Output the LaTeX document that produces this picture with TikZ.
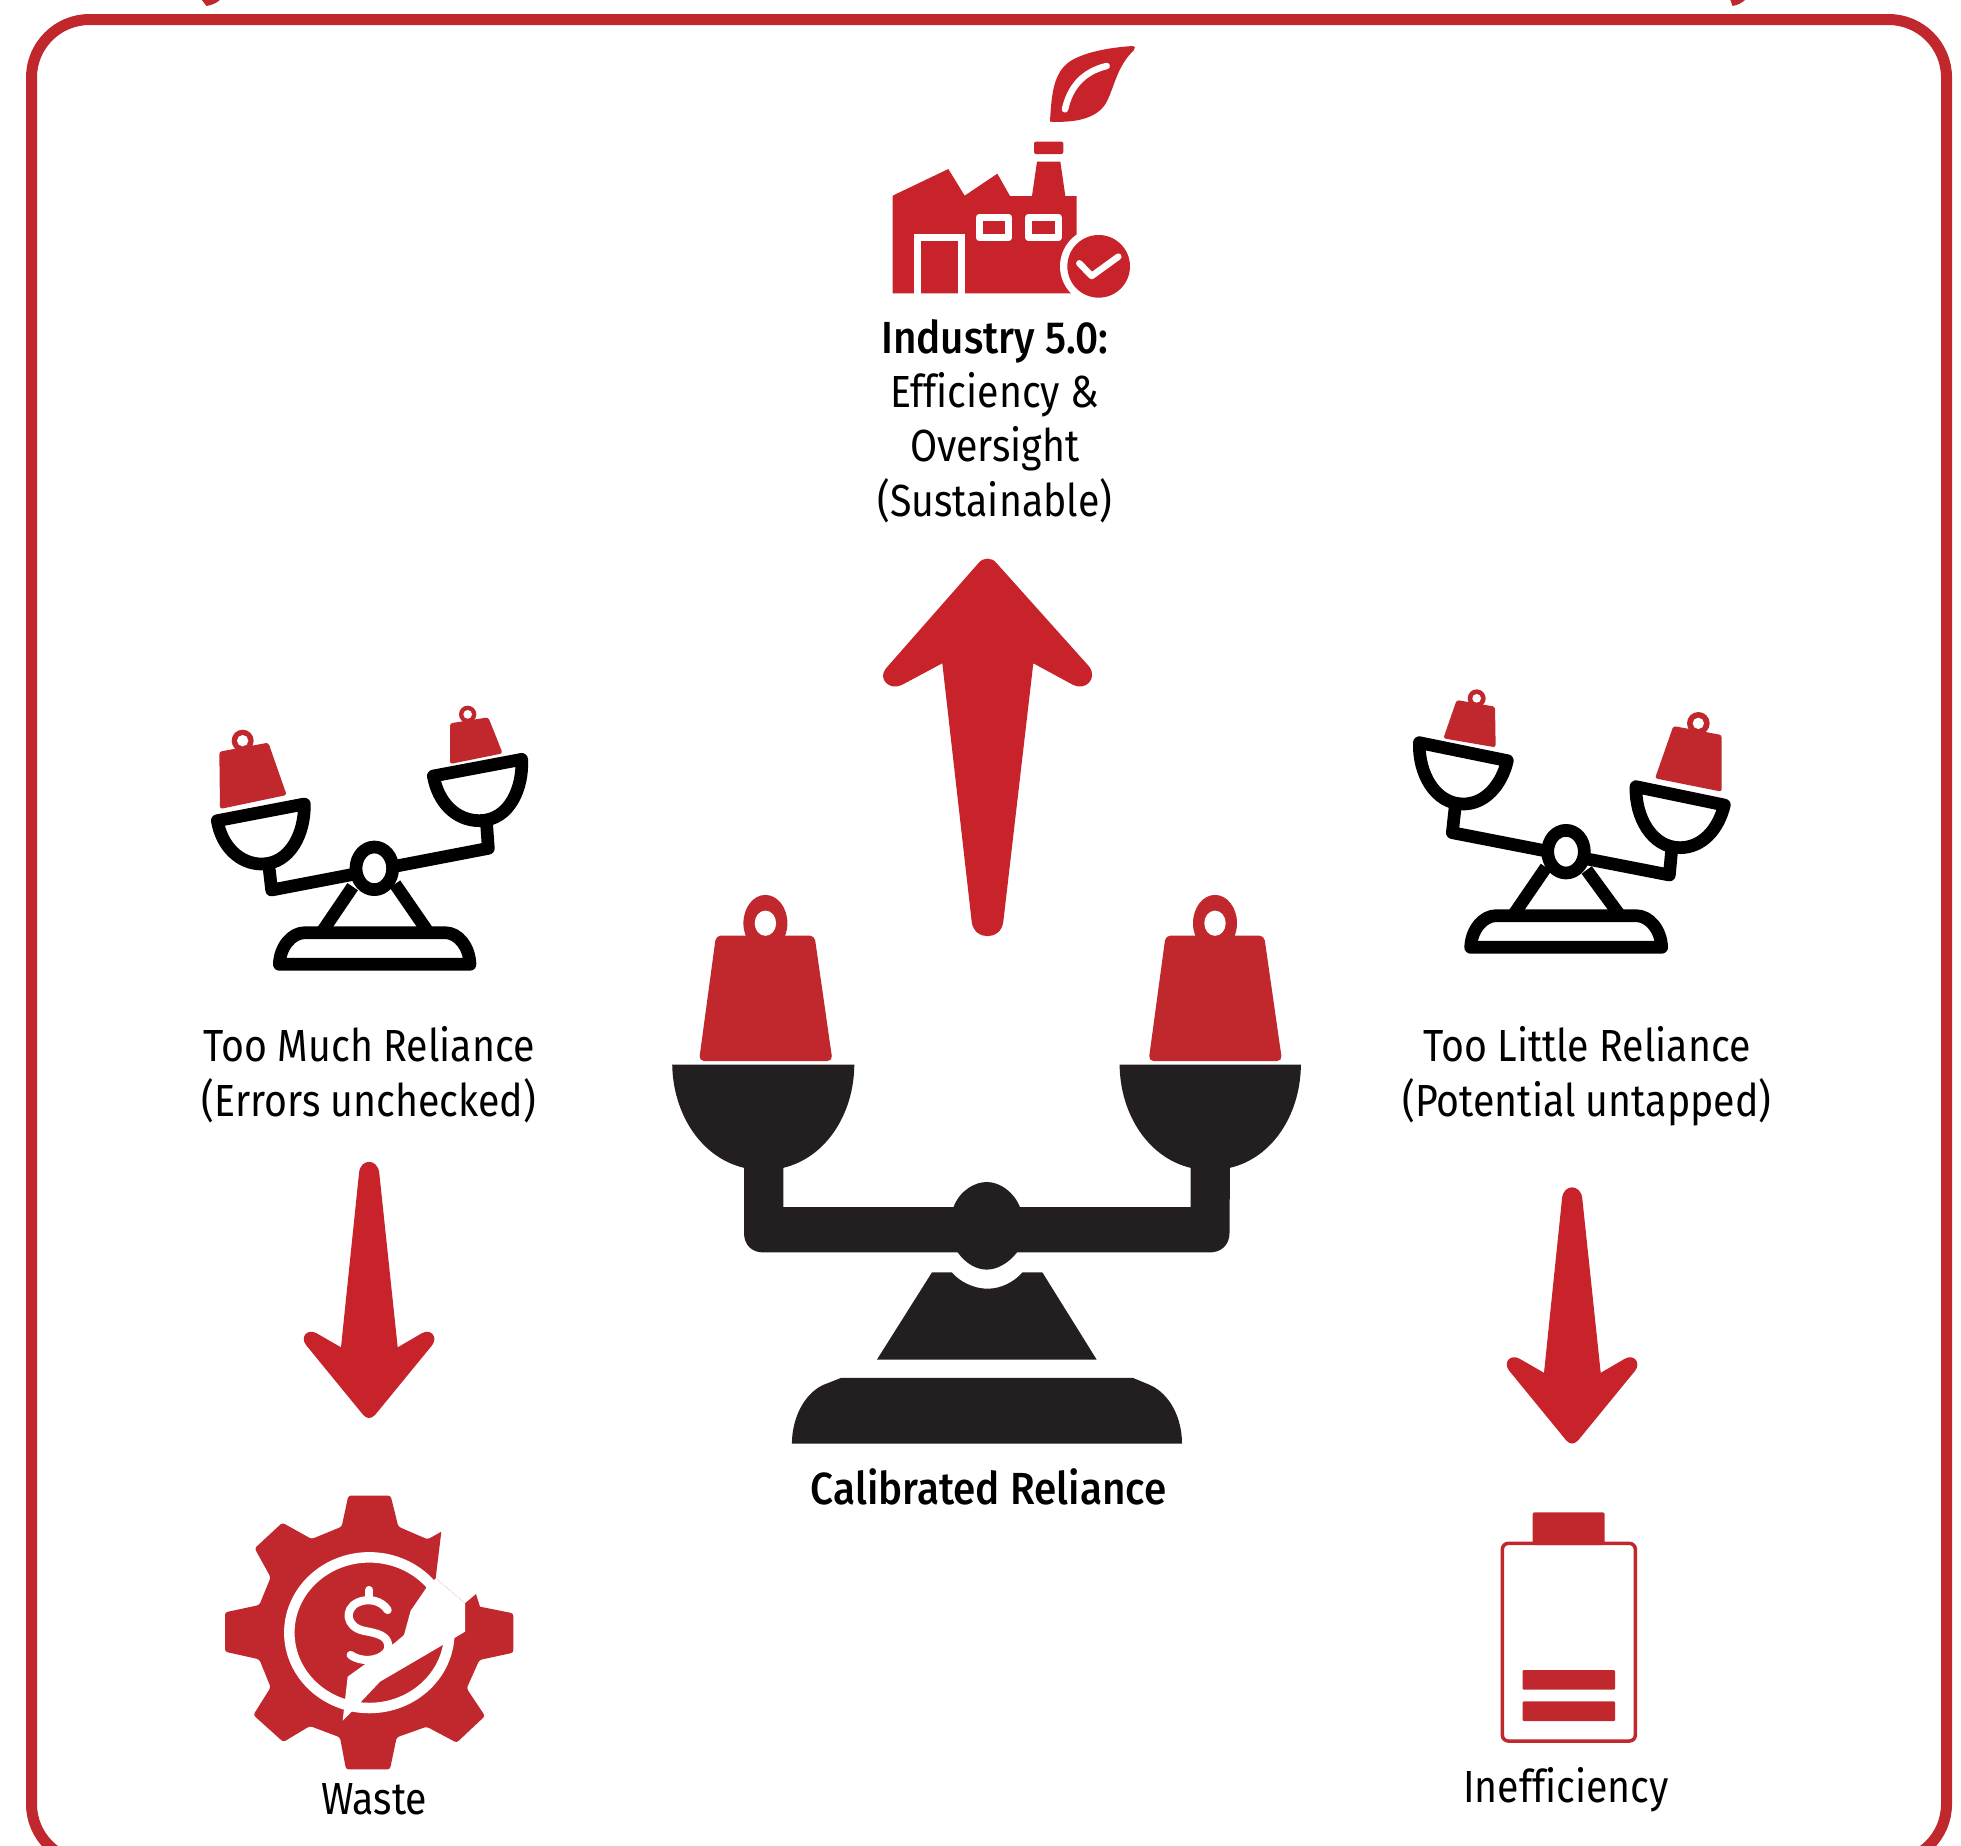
\documentclass[tikz,border=0pt]{standalone}
\usepackage{fontspec}
\setmainfont{Fira Sans}[FakeStretch=0.873,Ligatures=CommonOff,BoldFont={Fira Sans Medium},BoldFeatures={FakeStretch=0.9}]
\definecolor{arrowred}{HTML}{C8232A}
\definecolor{iconred}{HTML}{C1282E}
\definecolor{ink}{HTML}{231F20}
\tikzset{
  lab/.style={font=\fontsize{45}{54}\selectfont, text=black, inner sep=0pt, align=center, anchor=base},
  boldlab/.style={lab, font=\fontsize{45}{54}\selectfont\bfseries},
  zoomscope/.style={shift={#1}, x=.33333pt, y=-.33333pt},
  scaleline/.style={draw=black, line width=12.7pt, line join=round, line cap=round},
  whitepan/.style={scaleline, fill=white},
  redweight/.style={fill=iconred, rounded corners=2.5pt},
  whiteline/.style={draw=white, line cap=round, line join=round}
}
\begin{document}
\begin{tikzpicture}[x=1pt,y=-1pt]
\fill[white] (0,0) rectangle (1961,1845);
\clip (0,0) rectangle (1961,1845);
% frame
\draw[draw=iconred, line width=11pt, rounded corners=58pt] (31.5,19.5) rectangle (1946.5,1862);
\fill[iconred] (201,-1) -- (206.5,6) .. controls (212,5) and (217,3) .. (221,-1) -- cycle;
\fill[iconred] (1730,-1) -- (1732.5,6) .. controls (1738,5) and (1742,3) .. (1746,-1) -- cycle;

% up arrow
\fill[arrowred] (978.3,563.3) .. controls (983,557) and (992,557) .. (996.7,563.3)
  -- (1089.3,666.7) .. controls (1098,679) and (1085,691) .. (1073.3,685)
  -- (1033.3,663.3) -- (1003.3,921.7) .. controls (1001,941) and (974,941) .. (971.7,921.7)
  -- (942.3,663.3) -- (901.7,685) .. controls (890,691) and (877,679) .. (886,668.3) -- cycle;

% down arrows
\foreach \dx/\dy in {0/0,1203/25.5}{
\begin{scope}[shift={(\dx,\dy)}]
\fill[arrowred] (359,1173.3) .. controls (360,1158) and (378,1158) .. (379.3,1173.3)
  -- (397.7,1347.3) -- (421.7,1333.3) .. controls (431,1328) and (438,1337) .. (432.3,1345)
  -- (375,1415) .. controls (371,1419) and (367,1419) .. (363.3,1415)
  -- (306,1345) .. controls (300,1337) and (307,1328) .. (316.7,1333.3)
  -- (341,1347.3) -- cycle;
\end{scope}}

% central scale
\foreach \dx in {0,449.6}{
\begin{scope}[shift={(\dx,0)}]
\fill[iconred] (765.4,923.2) ellipse [x radius=22, y radius=28.3];
\fill[iconred, rounded corners=5pt] (716,935.5) -- (814.5,935.5) -- (832.5,1061) -- (699,1061) -- cycle;
\fill[white] (765.4,923.2) ellipse [x radius=10.7, y radius=12.6];
\end{scope}}
\fill[ink] (672.2,1064.5) -- (854.3,1064.5) .. controls (854,1115) and (825,1158) .. (783.3,1167.8) -- (744,1167.8) .. controls (702,1158) and (673,1115) .. (672.2,1064.5) -- cycle;
\fill[ink] (1119.6,1064.5) -- (1300.9,1064.5) .. controls (1300.5,1115) and (1272,1158) .. (1230,1167.8) -- (1190.6,1167.8) .. controls (1149,1158) and (1120,1115) .. (1119.6,1064.5) -- cycle;
\fill[ink] (744,1160) -- (744,1233) .. controls (744,1245) and (752,1252.4) .. (763,1252.4) -- (1210,1252.4) .. controls (1221,1252.4) and (1229.5,1245) .. (1229.5,1233) -- (1230,1160) -- (1190.6,1160) -- (1190.6,1207.2) -- (783.3,1207.2) -- (783.3,1160) -- cycle;
\fill[ink] (953.4,1207.2) .. controls (960,1190) and (975,1182) .. (986.8,1182) .. controls (1000,1182) and (1014,1192) .. (1020,1207.2) -- (1017,1252.4) .. controls (1008,1264) and (996,1269.6) .. (986.8,1269.6) .. controls (977,1269.6) and (966,1264) .. (957.7,1252.4) -- cycle;
\fill[ink] (932,1272.3) -- (951.7,1272.3) .. controls (960,1282) and (974,1288.7) .. (987.6,1288.7) .. controls (1001,1288.7) and (1014,1282) .. (1022.6,1272.3) -- (1042.3,1272.3) -- (1096.6,1359.5) -- (877,1359.5) -- cycle;
\fill[ink] (841,1377.9) -- (1133,1377.9) -- (1150,1385) .. controls (1170,1394) and (1182,1418) .. (1182,1443.7) -- (791.9,1443.7) .. controls (792,1418) and (804,1394) .. (823,1385) -- cycle;

% left tilted scale
\begin{scope}[zoomscope={(190,690)}]
\fill[iconred] (158,152) circle [radius=33];
\fill[redweight] (88,185) -- (235,158) -- (290,315) -- (90,357) -- cycle;
\fill[white] (158,152) circle [radius=17];
\fill[iconred] (833,73) circle [radius=26];
\fill[redweight] (780,100) -- (895,82) -- (938,190) -- (780,222) -- cycle;
\fill[white] (833,73) circle [radius=13];
\draw[scaleline] (238,540) -- (245,600) -- (895,475) -- (890,405);
\draw[whitepan] (82,392) -- (343,342) .. controls (345,430) and (300,522) .. (215,522) .. controls (150,522) and (95,470) .. (82,392) -- cycle;
\draw[whitepan] (730,258) -- (995,208) .. controls (1000,290) and (960,392) .. (868,392) .. controls (800,392) and (745,340) .. (730,258) -- cycle;
\draw[scaleline, line cap=butt] (393,730) -- (488,590);
\draw[scaleline, line cap=butt] (717,730) -- (615,582);
\draw[scaleline, fill=white] (268,823) .. controls (270,770) and (305,728) .. (345,728) -- (765,728) .. controls (805,728) and (838,770) .. (840,823) -- cycle;
\draw[scaleline, fill=white] (553,535) ellipse [x radius=55, y radius=64];
\end{scope}

% right tilted scale
\begin{scope}[zoomscope={(1390,670)}]
\fill[iconred] (260,85) circle [radius=27];
\fill[redweight] (200,90) -- (315,110) -- (317,232) -- (160,205) -- cycle;
\fill[white] (260,85) circle [radius=13];
\fill[iconred] (925,160) circle [radius=34];
\fill[redweight] (850,168) -- (995,195) -- (995,365) -- (795,325) -- cycle;
\fill[white] (925,160) circle [radius=17];
\draw[scaleline] (195,415) -- (187,488) -- (838,615) -- (845,540);
\draw[whitepan] (88,218) -- (352,272) .. controls (335,345) and (285,402) .. (220,402) .. controls (135,402) and (85,310) .. (88,218) -- cycle;
\draw[whitepan] (738,350) -- (1003,405) .. controls (985,480) and (935,533) .. (870,533) .. controls (785,533) and (735,440) .. (738,350) -- cycle;
\draw[scaleline, line cap=butt] (368,738) -- (468,592);
\draw[scaleline, line cap=butt] (691,738) -- (590,600);
\draw[scaleline, fill=white] (242,832) .. controls (244,779) and (279,737) .. (319,737) -- (738,737) .. controls (778,737) and (813,779) .. (815,832) -- cycle;
\draw[scaleline, fill=white] (528,545) ellipse [x radius=55, y radius=64];
\end{scope}

% factory
\begin{scope}[zoomscope={(860,20)}]
\fill[arrowred] (570,303) .. controls (575,220) and (580,150) .. (640,118) .. controls (690,92) and (760,82) .. (818,78) .. controls (825,78) and (827,84) .. (822,90) .. controls (775,135) and (765,190) .. (745,235) .. controls (725,285) and (670,310) .. (570,305) -- cycle;
\draw[whiteline, line width=6.5pt] (615,268) .. controls (630,200) and (670,155) .. (740,138);
\fill[arrowred, rounded corners=2pt] (522,365) rectangle (610,402);
\fill[arrowred] (98,820) -- (98,527) -- (265,447) -- (314,527) -- (412,461) -- (450,528) -- (516,528) -- (531,425) -- (601,425) -- (616,528) -- (650,528) -- (650,820) -- cycle;
\draw[white, line width=7.5pt] (173,822) -- (173,653) -- (304,653) -- (304,822);
\draw[white, line width=7.3pt, line join=round] (358,592) rectangle (446,653);
\draw[white, line width=7.3pt, line join=round] (506,592) rectangle (595,653);
\fill[white] (716,739) circle [radius=116];
\fill[arrowred] (716,739) circle [radius=94];
\draw[whiteline, line width=6.5pt] (658,730) -- (695,768) -- (775,710);
\end{scope}

% gear
\begin{scope}[zoomscope={(200,1480)}]
\fill[iconred, rounded corners=2.5pt] (425,140) -- (445,47) -- (572,47) -- (595,140) -- (683,178)
  [sharp corners] -- (724,155) -- (707,295) -- (795,370) -- (828,342) -- (840,380)
  [rounded corners=2.5pt] -- (940,400) -- (940,518) -- (838,540) -- (800,625) -- (855,708) -- (770,788) -- (680,740) -- (590,772) -- (570,868) -- (438,868) -- (420,772) -- (330,738) -- (250,786) -- (160,705) -- (212,622) -- (178,538) -- (75,515) -- (75,397) -- (178,375) -- (212,292) -- (164,205) -- (247,128) -- (335,177) -- cycle;
\draw[white, line width=10.5pt] (508,458) ellipse [x radius=240, y radius=226];
\fill[white] (428,722) -- (443,590) -- (585,488) -- (612,465) -- (632,392) -- (680,322) -- (707,295) -- (795,370) -- (795,455) -- (728,495) -- (540,605) -- (455,695) -- cycle;
\draw[whiteline, line width=8.2pt] (563,390) .. controls (545,362) and (505,352) .. (472,368) .. controls (432,388) and (438,440) .. (490,452) .. controls (530,460) and (568,465) .. (565,505) .. controls (555,540) and (490,552) .. (452,525);
\draw[whiteline, line width=8.2pt] (508,330) -- (508,358);
\end{scope}

% battery
\begin{scope}[zoomscope={(1460,1480)}]
\fill[iconred, rounded corners=2pt] (218,97) rectangle (434,195);
\draw[iconred, line width=3.5pt, rounded corners=6pt] (127,190) rectangle (526,783);
\fill[iconred, rounded corners=1pt] (188,570) rectangle (465,629);
\fill[iconred, rounded corners=1pt] (188,664) rectangle (465,723);
\end{scope}

% labels
\node[boldlab] (goal) at (994.8,353) {Industry 5.0:};
\node[lab] (goal2) at (994.8,407) {Efficiency \&};
\node[lab] (goal3) at (994.8,461) {Oversight};
\node[lab] (goal4) at (994.8,516) {(Sustainable)};
\node[boldlab] (calib) at (988.6,1504.6) {Calibrated Reliance};
\node[lab] (much) at (369,1061) {Too Much Reliance};
\node[lab] (much2) at (369,1116) {(Errors unchecked)};
\node[lab] (little) at (1587,1061) {Too Little Reliance};
\node[lab] (little2) at (1587,1116) {(Potential untapped)};
\node[lab] (waste) at (374.5,1814) {Waste};
\node[lab] (ineff) at (1566,1802) {Inefficiency};
\end{tikzpicture}
\end{document}
